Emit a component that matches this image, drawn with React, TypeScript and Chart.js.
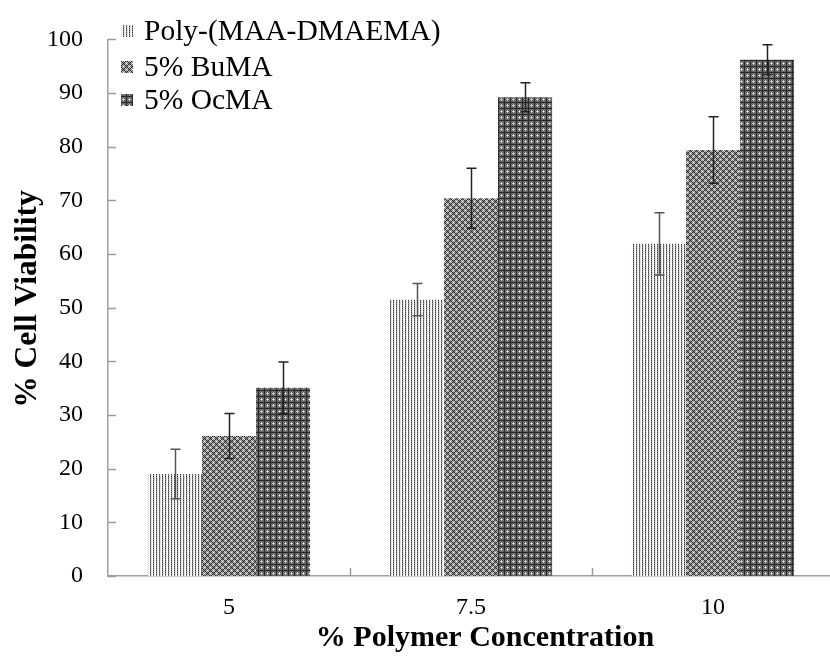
import React, { useEffect, useRef } from "react";
import { Chart, registerables } from "chart.js";

Chart.register(...registerables);

// Polymer concentrations (%) on the category axis
const concentrations = ["5", "7.5", "10"];
const seriesNames = ["Poly-(MAA-DMAEMA)", "5% BuMA", "5% OcMA"];

// Mean cell viability (%) and standard deviation per formulation
const polyValues = [19.0, 51.5, 61.9];
const polyErrors = [4.6, 3.0, 5.8];
const bumaValues = [26.1, 70.4, 79.4];
const bumaErrors = [4.2, 5.6, 6.2];
const ocmaValues = [35.1, 89.2, 96.2];
const ocmaErrors = [4.8, 2.7, 2.8];

const yMin = 0;
const yMax = 100;
const yStep = 10;

const SERIF = "'Liberation Serif', 'Times New Roman', serif";

function makePattern(size: number, paint: (x: number, y: number) => string): CanvasPattern {
  const c = document.createElement("canvas");
  c.width = size;
  c.height = size;
  const g = c.getContext("2d")!;
  for (let y = 0; y < size; y++) {
    for (let x = 0; x < size; x++) {
      g.fillStyle = paint(x, y);
      g.fillRect(x, y, 1, 1);
    }
  }
  return g.createPattern(c, "repeat")!;
}

// light vertical dotted stripes
const polyPaint = (x: number, y: number) => {
  const cx = x % 3;
  if (cx === 0) return y % 2 === 0 ? "#3c3c3c" : "#8a8a8a";
  if (cx === 1) return y % 2 === 0 ? "#f2f2f2" : "#d6d6d6";
  return "#ffffff";
};

// diamond lattice
const bumaPaint = (x: number, y: number) => {
  const a = (x + y) % 6;
  const b = (x - y + 12) % 6;
  if (a === 0 || b === 0) return "#262626";
  if (a === 3 && b === 3) return "#ffffff";
  if (a === 3 || b === 3) return "#c8c8c8";
  return "#8c8c8c";
};

// dark grid with light crosses
const ocmaPaint = (x: number, y: number) => {
  const cx = x % 6;
  const cy = y % 6;
  if (cx === 3 && cy === 3) return "#ffffff";
  if ((cx === 3 && (cy === 2 || cy === 4)) || (cy === 3 && (cx === 2 || cx === 4))) return "#b4b4b4";
  if (cx === 0 || cy === 0) return "#2a2a2a";
  return (x + y) % 2 === 0 ? "#5a5a5a" : "#7a7a7a";
};

export default function App() {
  const canvasRef = useRef<HTMLCanvasElement | null>(null);

  useEffect(() => {
    const canvas = canvasRef.current;
    if (!canvas) return;

    const patterns = [makePattern(6, polyPaint), makePattern(12, bumaPaint), makePattern(6, ocmaPaint)];
    const errors = [polyErrors, bumaErrors, ocmaErrors];

    const errorBars = {
      id: "errorBars",
      afterDatasetsDraw(chart: any) {
        const ctx = chart.ctx;
        const yScale = chart.scales.y;
        ctx.save();
        ctx.lineWidth = 1.5;
        chart.data.datasets.forEach((ds: any, di: number) => {
          const meta = chart.getDatasetMeta(di);
          ctx.strokeStyle = di === 0 ? "#555555" : "#222222";
          meta.data.forEach((bar: any, i: number) => {
            const v = ds.data[i];
            const e = errors[di][i];
            const x = Math.round(bar.x) + 0.5;
            const yTop = yScale.getPixelForValue(v + e);
            const yBot = yScale.getPixelForValue(v - e);
            ctx.beginPath();
            ctx.moveTo(x, yTop);
            ctx.lineTo(x, yBot);
            ctx.moveTo(x - 5, yTop);
            ctx.lineTo(x + 5, yTop);
            ctx.moveTo(x - 5, yBot);
            ctx.lineTo(x + 5, yBot);
            ctx.stroke();
          });
        });
        ctx.restore();
      },
    };

    const decorations = {
      id: "decorations",
      afterDraw(chart: any) {
        const ctx = chart.ctx;
        const area = chart.chartArea;
        const xScale = chart.scales.x;
        const yScale = chart.scales.y;
        ctx.save();

        // inward tick marks
        ctx.strokeStyle = "#9a9a9a";
        ctx.lineWidth = 1.5;
        ctx.beginPath();
        for (let v = yMin; v <= yMax; v += yStep) {
          const y = Math.round(yScale.getPixelForValue(v)) + 0.5;
          ctx.moveTo(area.left, y);
          ctx.lineTo(area.left + 8, y);
        }
        const catW = (area.right - area.left) / concentrations.length;
        for (let i = 1; i < concentrations.length; i++) {
          const x = Math.round(xScale.getPixelForValue(i) - catW / 2) + 0.5;
          ctx.moveTo(x, area.bottom);
          ctx.lineTo(x, area.bottom - 8);
        }
        ctx.stroke();

        // legend
        ctx.font = `29.5px ${SERIF}`;
        ctx.fillStyle = "#000";
        ctx.textBaseline = "middle";
        ctx.textAlign = "left";
        const rows = [31, 67, 100];
        seriesNames.forEach((name, i) => {
          const y = rows[i];
          ctx.fillStyle = "#ffffff";
          ctx.fillRect(120, y - 7, 14, 14);
          ctx.fillStyle = patterns[i];
          ctx.fillRect(121, y - 6, 12, 12);
          ctx.fillStyle = "#000";
          ctx.fillText(name, 144, y + 1);
        });

        // axis titles
        ctx.font = `bold 30px ${SERIF}`;
        ctx.textAlign = "center";
        ctx.fillText("% Polymer Concentration", 485, 638);
        ctx.font = `bold 31.5px ${SERIF}`;
        ctx.translate(28, 299);
        ctx.rotate(-Math.PI / 2);
        ctx.fillText("% Cell Viability", 0, 0);
        ctx.restore();
      },
    };

    const chart = new Chart(canvas, {
      type: "bar",
      data: {
        labels: concentrations,
        datasets: [
          { label: seriesNames[0], data: polyValues, backgroundColor: patterns[0], borderWidth: 0 },
          { label: seriesNames[1], data: bumaValues, backgroundColor: patterns[1], borderWidth: 0 },
          { label: seriesNames[2], data: ocmaValues, backgroundColor: patterns[2], borderWidth: 0 },
        ],
      },
      options: {
        responsive: false,
        animation: false,
        devicePixelRatio: 1,
        layout: { padding: { top: 30, right: 6, left: 0, bottom: 0 } },
        datasets: { bar: { categoryPercentage: 0.67, barPercentage: 1 } },
        plugins: { legend: { display: false }, tooltip: { enabled: false }, title: { display: false } },
        scales: {
          x: {
            grid: { display: false, drawTicks: false },
            border: { color: "#a0a0a0", width: 1.5 },
            ticks: { color: "#000", font: { family: SERIF, size: 24 }, padding: 17 },
            afterFit: (s: any) => {
              s.height = 80;
            },
          },
          y: {
            min: yMin,
            max: yMax,
            grid: { display: false, drawTicks: false },
            border: { color: "#a0a0a0", width: 1.5 },
            ticks: { stepSize: yStep, color: "#000", font: { family: SERIF, size: 24 }, padding: 25 },
            afterFit: (s: any) => {
              s.width = 108;
            },
          },
        },
      },
      plugins: [errorBars, decorations],
    });

    return () => chart.destroy();
  }, []);

  return (
    <div style={{ position: "absolute", left: 0, top: 0, width: 830, height: 656, overflow: "hidden", background: "#fff" }}>
      <canvas ref={canvasRef} width={840} height={656} style={{ display: "block" }} />
    </div>
  );
}
